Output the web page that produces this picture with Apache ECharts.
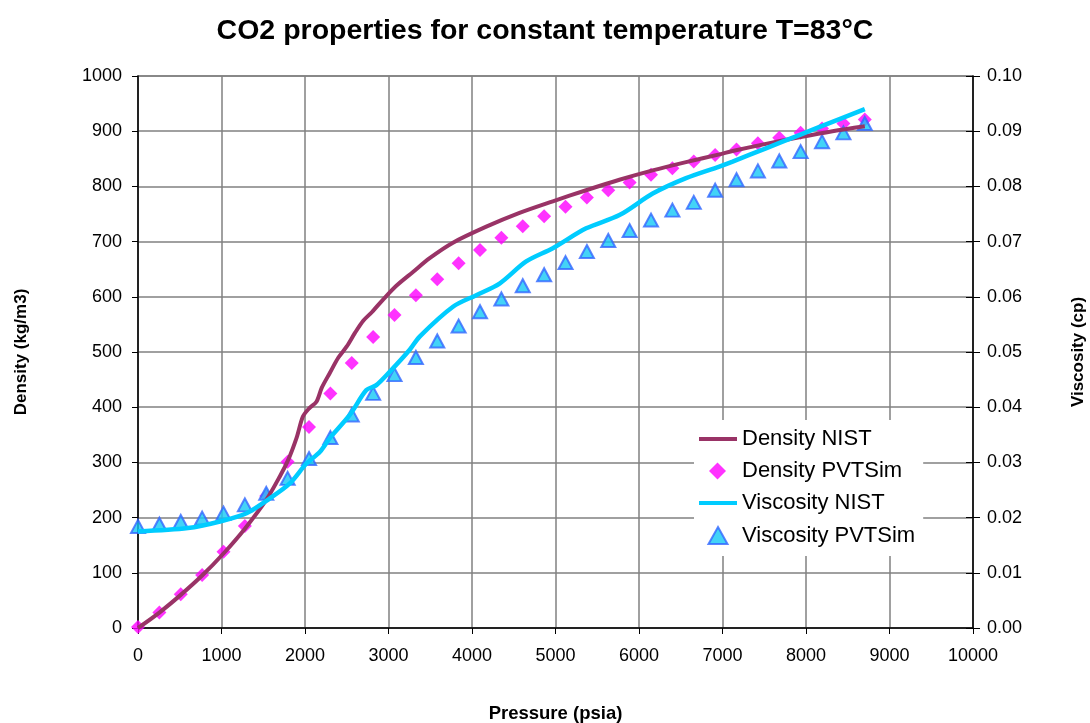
<!DOCTYPE html>
<html><head><meta charset="utf-8">
<script src="https://cdn.jsdelivr.net/npm/echarts@6/dist/echarts.min.js"></script>
<style>html,body{margin:0;padding:0;background:#fff}#c{width:1090px;height:723px}</style>
</head><body><div id="c"></div>
<script>
var titleText = 'CO2 properties for constant temperature T=83°C';
var seriesNames = ['Density NIST', 'Density PVTSim', 'Viscosity NIST', 'Viscosity PVTSim'];

// PVTSim pressures (psia)
var simPressure = [0,256,512,768,1024,1280,1536,1792,2048,2304,2560,2816,3072,3328,3584,3840,4096,4352,4608,4864,5120,5376,5632,5888,6144,6400,6656,6912,7168,7424,7680,7936,8192,8448,8704];
var densitySim = [2,28,61,96,138,185,239,301,364,425,480,527,567,603,632,661,685,707,728,746,763,780,793,807,821,833,845,857,867,878,888,897,905,914,921];
var viscositySim = [0.0184,0.0188,0.0193,0.0199,0.0208,0.0223,0.0244,0.0271,0.0307,0.0345,0.0386,0.0425,0.0459,0.0490,0.0520,0.0547,0.0573,0.0596,0.0620,0.0640,0.0662,0.0682,0.0702,0.0720,0.0739,0.0757,0.0771,0.0793,0.0812,0.0828,0.0846,0.0863,0.0881,0.0897,0.0914];

// NIST curves
var nistDensityP = [0,256,512,768,1024,1280,1536,1700,1800,1900,1975,2050,2137,2200,2297,2400,2500,2600,2700,2800,2935,3094,3293,3493,3772,4171,4569,4968,5367,5766,6164,6563,6962,7121,7520,7919,8317,8704];
var nistDensity = [0,28,60,95,135,180,232,275,305,345,383,398,410,435,462,490,510,535,557,572,595,620,645,670,698,727,752,773,793,812,829,844,858,864,877,889,900,909];
var nistViscP = [0,598,981,1300,1579,1818,2017,2177,2297,2536,2735,2855,3014,3254,3373,3772,4051,4330,4649,4968,5367,5766,6164,6563,6962,7121,7520,7919,8317,8704];
var nistVisc = [0.0175,0.0181,0.0193,0.0208,0.0235,0.0262,0.0298,0.0319,0.0344,0.0386,0.0431,0.0440,0.0464,0.0504,0.0528,0.0582,0.0603,0.0624,0.0664,0.0688,0.0724,0.0748,0.0787,0.0815,0.0836,0.0845,0.0869,0.0893,0.0917,0.0940];

function pairs(xs, ys){ return xs.map(function(x,i){return [x, ys[i]];}); }

var font = 'Liberation Sans, Arial, sans-serif';
// legend icons: bounding box 38x22 (moveTo points define the box)
var lineIcon = 'path://M0,0M38,22M0,9L38,9L38,13L0,13Z';
var diamondIcon = 'path://M0,0M38,22M10,11L18.5,2.5L27,11L18.5,19.5Z';
var triangleIcon = 'path://M0,0M38,22M19,2L28.5,19L9.5,19Z';
var chart = echarts.init(document.getElementById('c'));
chart.setOption({
  animation: false,
  backgroundColor: '#fff',
  title: { text: titleText, left: 'center', top: 12,
    textStyle: { fontFamily: font, fontSize: 28.5, fontWeight: 'bold', color: '#000' } },
  grid: { left: 138, right: 117, top: 76, bottom: 95, show: true, borderColor: '#808080', borderWidth: 1.5,
    outerBoundsMode: 'none', containLabel: false },
  legend: {
    orient: 'vertical', left: 694, top: 420, itemWidth: 38, itemHeight: 22, itemGap: 10,
    symbolKeepAspect: true,
    backgroundColor: '#fff', padding: [8, 8, 8, 4],
    textStyle: { fontFamily: font, fontSize: 22, lineHeight: 22, color: '#000' },
    data: [
      { name: seriesNames[0], icon: lineIcon },
      { name: seriesNames[1], icon: diamondIcon },
      { name: seriesNames[2], icon: lineIcon },
      { name: seriesNames[3], icon: triangleIcon }
    ]
  },
  xAxis: {
    type: 'value', min: 0, max: 10000, interval: 1000,
    name: 'Pressure (psia)', nameLocation: 'middle', nameGap: 76,
    nameTextStyle: { fontFamily: font, fontSize: 18.5, fontWeight: 'bold', color: '#000' },
    axisLine: { lineStyle: { color: '#000', width: 1.5 } },
    axisTick: { show: true, length: 6, lineStyle: { color: '#000' } },
    axisLabel: { fontFamily: font, fontSize: 18, color: '#000', margin: 19,
      formatter: function(v){ return String(v); } },
    splitLine: { show: true, lineStyle: { color: '#808080', width: 1.5 } }
  },
  yAxis: [{
    type: 'value', min: 0, max: 1000, interval: 100,
    name: 'Density (kg/m3)', nameLocation: 'middle', nameGap: 108, nameRotate: 90,
    nameTextStyle: { fontFamily: font, fontSize: 17, fontWeight: 'bold', color: '#000' },
    axisLine: { show: true, lineStyle: { color: '#000', width: 1.5 } },
    axisTick: { show: true, length: 6, lineStyle: { color: '#000' } },
    axisLabel: { fontFamily: font, fontSize: 18, color: '#000', margin: 16,
      formatter: function(v){ return String(v); } },
    splitLine: { show: true, lineStyle: { color: '#808080', width: 1.5 } }
  }, {
    type: 'value', min: 0, max: 0.1, interval: 0.01, position: 'right',
    name: 'Viscosity (cp)', nameLocation: 'middle', nameGap: 97, nameRotate: 90,
    nameTextStyle: { fontFamily: font, fontSize: 17, fontWeight: 'bold', color: '#000' },
    axisLine: { show: true, lineStyle: { color: '#000', width: 1.5 } },
    axisTick: { show: true, length: 7, lineStyle: { color: '#000' } },
    axisLabel: { fontFamily: font, fontSize: 18, color: '#000', margin: 14,
      formatter: function(v){ return v.toFixed(2); } },
    splitLine: { show: false }
  }, {
    type: 'value', min: 0, max: 0.1, interval: 0.01, position: 'right',
    axisLine: { show: false },
    axisTick: { show: true, inside: true, length: 7, lineStyle: { color: '#000' } },
    axisLabel: { show: false },
    splitLine: { show: false }
  }],
  series: [{
    name: seriesNames[0], type: 'line', yAxisIndex: 0, data: pairs(nistDensityP, nistDensity),
    showSymbol: false, symbol: 'none', smooth: 0.3,
    lineStyle: { color: '#993366', width: 4 }, itemStyle: { color: '#993366' }
  }, {
    name: seriesNames[1], type: 'scatter', yAxisIndex: 0, data: pairs(simPressure, densitySim),
    symbol: 'diamond', symbolSize: 14, itemStyle: { color: '#FF00FF' }
  }, {
    name: seriesNames[2], type: 'line', yAxisIndex: 1, data: pairs(nistViscP, nistVisc),
    showSymbol: false, symbol: 'none', smooth: 0.3,
    lineStyle: { color: '#00CCFF', width: 4.5 }, itemStyle: { color: '#00CCFF' }
  }, {
    name: seriesNames[3], type: 'scatter', yAxisIndex: 1, data: pairs(simPressure, viscositySim),
    symbol: 'triangle', symbolSize: [14, 13],
    itemStyle: { color: '#14C8F5', borderColor: '#3366FF', borderWidth: 2 }
  }]
});
</script></body></html>
